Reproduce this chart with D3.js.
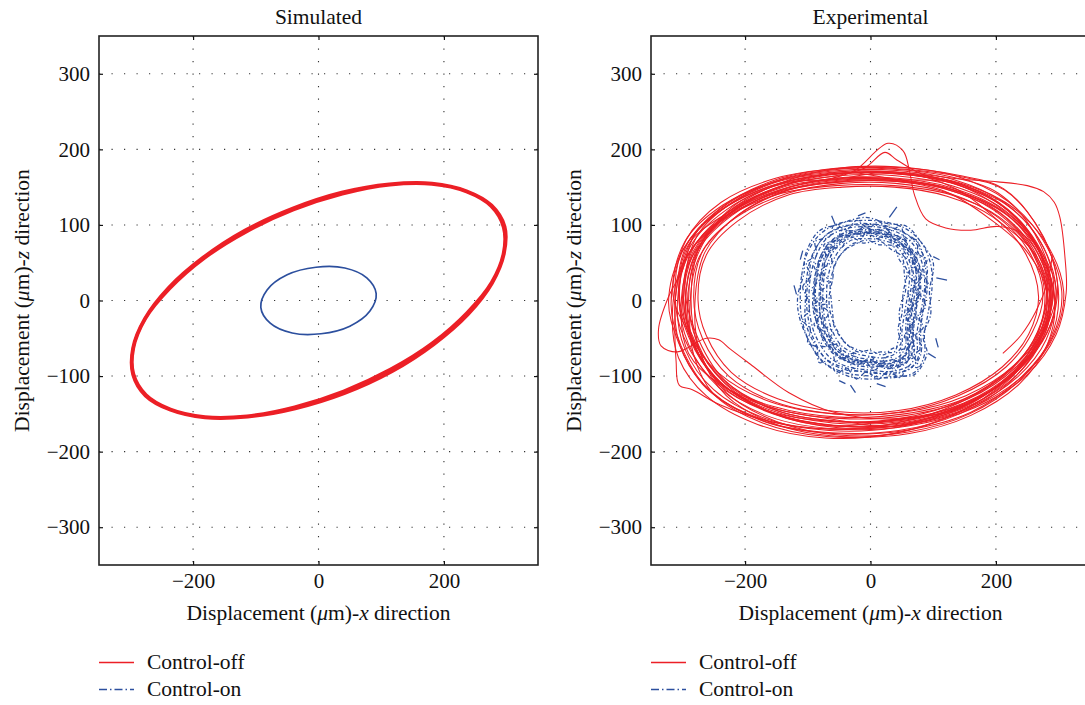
<!DOCTYPE html>
<html>
<head>
<meta charset="utf-8">
<script src="https://cdn.jsdelivr.net/npm/d3@7"></script>
<style>
  html, body { margin: 0; padding: 0; background: #fff; }
  svg { display: block; }
  text { font-family: "Liberation Serif", "Times New Roman", serif; fill: #111; }
</style>
</head>
<body>
<svg id="chart" width="1085" height="705"></svg>
<script>
// ---- axis settings ----
const axisDomain = [-350, 350];
const xTicks = [-200, 0, 200];
const yTicks = [-300, -200, -100, 0, 100, 200, 300];
const panelTitles = ["Simulated", "Experimental"];
const seriesNames = ["Control-off", "Control-on"];

// ---- simulated orbit (x, z in µm) ----
const simOff = [
  [[295,97],[275,125],[236,144],[181,154],[114,153],[38,141],[-40,120],[-115,91],[-182,56],[-237,16],[-276,-24],[-295,-63],[-295,-97],[-275,-125],[-236,-144],[-181,-154],[-114,-153],[-38,-141],[40,-120],[115,-91],[182,-56],[237,-16],[276,24],[295,63]],
  [[297,98],[276,126],[236,145],[181,155],[113,154],[37,143],[-41,122],[-117,93],[-184,57],[-239,17],[-277,-24],[-296,-63],[-296,-98],[-276,-126],[-236,-145],[-181,-155],[-113,-154],[-37,-143],[41,-123],[117,-94],[184,-58],[239,-18],[277,23],[296,62]]
];
const simOn = [
  [[92,9],[77,30],[42,43],[-4,44],[-50,34],[-82,14],[-92,-9],[-77,-30],[-42,-43],[4,-44],[50,-34],[82,-14]]
];

// ---- experimental orbit, control off (x, z in µm) ----
const expOff = [
  [[-300,0],[-282,70],[-226,118],[-140,152],[-50,165],[40,165],[130,152],[210,122],[265,72],[290,10],[275,-45],[230,-95],[150,-138],[50,-160],[-60,-162],[-160,-145],[-240,-108],[-285,-55]],
  [[-318,-5],[-298,68],[-240,122],[-150,160],[-55,175],[40,177],[135,165],[218,132],[275,80],[305,12],[290,-48],[242,-100],[160,-148],[55,-172],[-60,-176],[-170,-160],[-258,-118],[-302,-60]],
  [[-282,5],[-266,68],[-214,110],[-132,142],[-45,155],[40,155],[125,142],[200,112],[252,66],[275,8],[258,-42],[216,-88],[140,-126],[45,-148],[-55,-150],[-150,-135],[-226,-100],[-268,-50]],
  [[-305,15],[-284,82],[-228,128],[-142,160],[-50,172],[42,172],[132,160],[212,130],[268,82],[292,22],[278,-35],[232,-84],[152,-126],[52,-148],[-58,-150],[-160,-134],[-242,-96],[-290,-42]],
  [[-312,-15],[-295,55],[-238,105],[-150,140],[-55,152],[38,152],[128,140],[206,110],[260,62],[284,-2],[268,-58],[222,-108],[142,-150],[45,-172],[-62,-175],[-168,-160],[-252,-122],[-298,-72]],
  [[-295,-8],[-278,62],[-222,112],[-136,148],[-45,162],[45,160],[135,146],[214,116],[268,66],[294,2],[280,-52],[236,-100],[156,-142],[56,-164],[-55,-168],[-156,-150],[-236,-114],[-280,-62]],
  [[-290,2],[-272,72],[-218,120],[-134,154],[-42,168],[48,168],[140,156],[222,126],[280,76],[308,12],[294,-44],[248,-96],[166,-140],[62,-164],[-52,-166],[-152,-150],[-232,-110],[-276,-56]],
  [[-300,40],[-280,88],[-226,126],[-140,156],[-48,168],[42,168],[132,155],[212,124],[266,75],[290,12],[274,-44],[228,-94],[148,-136],[48,-156],[-58,-148],[-130,-122],[-192,-84],[-224,-64],[-242,-52],[-262,-50],[-308,-68],[-334,-60],[-338,-38],[-322,5]],
  [[-310,10],[-292,75],[-234,122],[-146,155],[-52,168],[40,168],[130,155],[210,125],[264,75],[288,10],[272,-48],[226,-98],[146,-140],[46,-165],[-62,-170],[-160,-160],[-240,-138],[-284,-118],[-305,-112],[-310,-80],[-312,-30]],
  [[-295,0],[-276,68],[-222,116],[-140,150],[-60,162],[-25,172],[28,208],[52,198],[62,172],[70,140],[88,108],[120,96],[160,93],[203,98],[241,89],[268,60],[286,8],[272,-46],[228,-96],[148,-140],[50,-162],[-58,-165],[-158,-148],[-238,-110],[-282,-56]],
  [[-298,-2],[-280,66],[-224,116],[-138,152],[-50,166],[-10,175],[23,196],[42,186],[80,168],[140,155],[218,126],[272,76],[296,14],[282,-42],[236,-92],[156,-136],[56,-158],[-54,-160],[-156,-144],[-236,-106],[-280,-54]],
  [[-305,5],[-287,72],[-230,120],[-144,154],[-52,168],[40,170],[150,160],[203,157],[250,152],[276,144],[293,130],[302,110],[310,58],[312,10],[296,-45],[250,-98],[166,-142],[60,-166],[-55,-170],[-160,-154],[-242,-115],[-290,-58]],
  [[-275,0],[-262,60],[-212,105],[-130,140],[-45,150],[38,150],[122,138],[196,110],[246,64],[268,5],[252,-45],[210,-88],[136,-125],[42,-146],[-55,-147],[-148,-130],[-222,-95],[-262,-46]],
  [[-315,8],[-296,78],[-236,126],[-148,158],[-56,170],[38,170],[128,158],[206,128],[260,78],[286,16],[274,-40],[232,-88],[156,-130],[58,-152],[-50,-156],[-155,-142],[-236,-104],[-284,-50]],
  [[-288,-12],[-274,56],[-222,106],[-138,144],[-48,158],[44,158],[134,144],[212,112],[262,60],[282,-4],[262,-60],[214,-110],[134,-150],[36,-176],[-70,-180],[-172,-162],[-250,-124],[-282,-72]],
  [[-308,-4],[-288,64],[-232,112],[-146,146],[-54,160],[36,160],[126,148],[204,118],[258,70],[282,6],[266,-50],[220,-100],[140,-144],[40,-168],[-66,-172],[-168,-156],[-250,-118],[-296,-64]],
  [[-306,6],[-290,74],[-232,114],[-146,150],[-48,170],[44,160],[128,156],[214,118],[262,78],[296,14],[272,-50],[236,-90],[146,-142],[56,-156],[-66,-166],[-154,-150],[-246,-104],[-290,-48]],
  [[-292,-10],[-276,60],[-220,124],[-132,156],[-56,160],[36,170],[136,148],[206,104],[262,62],[286,4],[280,-40],[226,-100],[156,-134],[44,-166],[-54,-158],[-166,-140],[-236,-112],[-278,-64]],
  [[-322,-2],[-300,66],[-244,116],[-152,156],[-60,168],[30,168],[124,158],[204,130],[258,84],[282,18],[268,-40],[222,-92],[140,-136],[42,-162],[-70,-170],[-176,-156],[-262,-116],[-306,-56]],
  [[-286,10],[-270,76],[-216,124],[-128,160],[-40,176],[50,174],[142,164],[214,146],[276,84],[300,6],[286,-52],[240,-104],[158,-150],[60,-174],[-50,-178],[-150,-160],[-230,-122],[-274,-64]],
  [[-302,-20],[-288,52],[-234,106],[-148,144],[-58,156],[32,158],[120,144],[200,102],[250,64],[280,14],[266,-42],[226,-90],[150,-130],[54,-150],[-56,-154],[-156,-140],[-242,-110],[-290,-70]],
  [[-296,20],[-276,86],[-220,130],[-136,162],[-46,174],[44,176],[138,166],[212,148],[270,92],[298,24],[286,-34],[242,-86],[162,-132],[64,-156],[-46,-160],[-148,-146],[-232,-106],[-280,-40]],
  [[-316,-20],[-300,48],[-246,102],[-158,140],[-64,156],[28,158],[118,148],[196,120],[252,72],[278,8],[262,-54],[216,-106],[136,-150],[38,-176],[-72,-182],[-180,-164],[-262,-126],[-306,-76]],
  [[-280,-4],[-264,64],[-210,114],[-126,148],[-36,160],[52,158],[140,144],[216,114],[270,64],[294,-2],[282,-58],[238,-110],[160,-152],[62,-176],[-48,-180],[-150,-164],[-230,-126],[-272,-68]],
  [[-312,12],[-294,80],[-238,130],[-150,162],[-58,174],[34,174],[126,164],[204,142],[262,88],[288,20],[272,-38],[226,-88],[146,-132],[48,-156],[-62,-160],[-164,-146],[-248,-108],[-298,-48]],
  [[-298,4],[-282,66],[-230,112],[-146,146],[-54,162],[38,162],[126,150],[208,120],[262,70],[288,8],[276,-48],[234,-98],[156,-140],[58,-162],[-52,-166],[-152,-150],[-234,-112],[-282,-58]]
];
// loose start of the recorded trace
const expOffTail = [[211,-70],[240,-46],[264,-14],[282,24],[290,60]];

// ---- experimental orbit, control on (x, z in µm) ----
const expOn = [
  [[-66,4],[-60,30],[-58,46],[-42,66],[-30,72],[-6,80],[12,74],[36,72],[46,54],[58,40],[52,10],[50,-18],[44,-38],[48,-58],[34,-64],[20,-72],[-2,-66],[-20,-68],[-42,-54],[-54,-38],[-64,-16]],
  [[-62,-4],[-64,24],[-54,52],[-46,62],[-26,76],[-10,76],[16,78],[32,68],[50,58],[54,34],[56,14],[46,-14],[48,-42],[44,-54],[38,-68],[16,-68],[2,-70],[-24,-64],[-38,-58],[-58,-34],[-60,-20]],
  [[-70,2],[-68,30],[-60,52],[-48,68],[-30,80],[-8,82],[16,80],[38,74],[52,60],[62,40],[60,12],[54,-18],[50,-42],[50,-60],[40,-70],[20,-76],[0,-74],[-24,-70],[-46,-60],[-62,-38],[-68,-18]],
  [[-76,-2],[-74,30],[-66,54],[-54,70],[-34,82],[-8,86],[16,84],[40,76],[56,62],[66,40],[64,12],[58,-16],[56,-40],[56,-60],[46,-74],[24,-80],[0,-78],[-26,-74],[-50,-62],[-68,-40],[-74,-18]],
  [[-80,6],[-76,32],[-70,56],[-52,74],[-36,84],[-6,90],[14,86],[42,80],[58,64],[72,42],[68,14],[62,-18],[58,-44],[60,-62],[48,-78],[26,-80],[-2,-82],[-28,-76],[-54,-66],[-70,-38],[-80,-20]],
  [[-78,-6],[-80,26],[-72,52],[-58,72],[-34,86],[-12,88],[18,88],[38,78],[62,66],[68,38],[70,16],[60,-14],[60,-40],[58,-64],[50,-76],[22,-84],[2,-80],[-30,-78],[-52,-64],[-72,-42],[-76,-22]],
  [[-82,0],[-80,28],[-74,54],[-56,76],[-38,86],[-10,90],[18,88],[42,80],[60,66],[72,42],[72,14],[64,-16],[62,-42],[62,-62],[50,-78],[26,-84],[0,-82],[-28,-78],[-54,-66],[-74,-40],[-80,-20]],
  [[-88,0],[-86,30],[-78,56],[-62,76],[-38,88],[-10,92],[18,90],[44,82],[64,66],[76,42],[76,14],[70,-16],[66,-42],[66,-64],[54,-80],[28,-86],[0,-84],[-30,-80],[-58,-68],[-78,-42],[-86,-20]],
  [[-92,4],[-84,34],[-82,54],[-60,80],[-42,86],[-6,96],[20,88],[48,84],[62,70],[80,40],[74,10],[72,-20],[64,-40],[70,-66],[52,-84],[32,-86],[-4,-88],[-28,-84],[-62,-66],[-76,-46],[-90,-18]],
  [[-86,-6],[-90,26],[-76,60],[-64,72],[-36,92],[-12,88],[16,94],[42,78],[66,64],[72,46],[80,16],[66,-12],[68,-46],[62,-62],[58,-82],[24,-90],[2,-80],[-34,-82],[-54,-70],[-82,-38],[-84,-24]],
  [[-90,2],[-88,32],[-80,58],[-64,78],[-40,90],[-10,94],[20,92],[46,84],[66,68],[78,44],[78,14],[72,-16],[68,-44],[68,-66],[56,-82],[30,-88],[0,-86],[-32,-82],[-60,-70],[-80,-44],[-88,-22]],
  [[-98,-2],[-96,30],[-86,60],[-70,82],[-44,94],[-10,98],[20,96],[48,88],[70,72],[84,44],[86,14],[80,-16],[74,-44],[74,-68],[62,-86],[32,-94],[0,-92],[-34,-88],[-64,-76],[-88,-46],[-96,-22]],
  [[-102,4],[-98,34],[-92,60],[-72,86],[-48,96],[-12,102],[22,98],[50,92],[74,74],[90,46],[88,16],[84,-14],[78,-46],[78,-70],[64,-90],[36,-96],[2,-96],[-36,-90],[-70,-78],[-92,-48],[-100,-20]],
  [[-104,-4],[-102,28],[-94,58],[-74,84],[-46,98],[-14,100],[18,100],[52,90],[76,76],[88,42],[90,12],[82,-18],[80,-42],[80,-72],[66,-88],[34,-98],[-2,-94],[-38,-92],[-68,-80],[-94,-50],[-104,-26]],
  [[-112,0],[-110,32],[-100,64],[-80,88],[-50,102],[-12,106],[22,104],[54,96],[80,78],[96,48],[98,16],[92,-16],[86,-44],[86,-72],[72,-94],[38,-102],[0,-100],[-38,-96],[-74,-82],[-100,-50],[-110,-22]],
  [[-116,6],[-106,36],[-104,60],[-82,92],[-54,100],[-8,110],[26,102],[58,98],[78,80],[100,50],[94,12],[96,-18],[84,-48],[90,-70],[70,-98],[42,-100],[-4,-104],[-36,-100],[-78,-80],[-98,-54],[-114,-20]],
  [[-84,0],[-94,14],[-80,30],[-90,46],[-72,58],[-74,74],[-54,80],[-44,94],[-24,88],[-10,98],[8,88],[24,96],[40,80],[54,84],[60,66],[74,62],[70,44],[82,32],[70,18],[80,4],[66,-10],[74,-24],[62,-36],[72,-50],[60,-62],[68,-76],[50,-78],[40,-92],[22,-82],[6,-92],[-10,-80],[-26,-90],[-40,-74],[-56,-80],[-62,-62],[-78,-60],[-74,-42],[-90,-32],[-80,-18],[-92,-8]],
  [[-70,-4],[-80,10],[-66,24],[-78,40],[-62,52],[-66,70],[-46,70],[-36,86],[-18,80],[-4,92],[10,82],[28,88],[36,72],[52,74],[54,58],[68,50],[60,34],[72,22],[60,8],[68,-8],[56,-20],[64,-34],[54,-48],[62,-62],[48,-66],[46,-82],[28,-74],[14,-84],[0,-74],[-16,-84],[-28,-70],[-44,-76],[-50,-58],[-64,-58],[-62,-40],[-76,-30],[-66,-16],[-80,-6]],
  [[-100,2],[-108,18],[-96,32],[-102,50],[-86,60],[-88,78],[-66,84],[-58,100],[-38,94],[-22,106],[-4,96],[14,104],[30,92],[48,98],[56,80],[74,80],[76,62],[90,54],[82,38],[92,22],[80,8],[88,-8],[76,-20],[84,-36],[72,-46],[82,-62],[70,-72],[76,-88],[58,-88],[48,-102],[28,-94],[12,-104],[-6,-94],[-22,-104],[-38,-90],[-54,-96],[-66,-80],[-82,-82],[-86,-62],[-100,-56],[-96,-38],[-108,-26],[-98,-12]]
];
// isolated fragments scattered around the ring
const expOnStrays = [
  [[30,110],[42,124]], [[105,30],[122,27]], [[92,-70],[104,-76]],
  [[-32,-112],[-24,-122]], [[-62,112],[-56,100]], [[-122,20],[-118,8]],
  [[10,-110],[24,-114]], [[100,58],[110,54]], [[-108,66],[-112,54]],
  [[-50,-106],[-40,-110]], [[104,-50],[108,-62]], [[-20,112],[-8,116]]
];

// ---- styling ----
const RED = "#ec1f26";
const BLUE = "#2c4f9e";
const TICK_PX = 21;
const LABEL_PX = 21.5;

const svg = d3.select("#chart");

const panels = [
  { left: 99, title: panelTitles[0], off: simOff, on: simOn, tail: null, strays: [], offWidth: 3.3, onWidth: 1.7, onDash: null },
  { left: 651, title: panelTitles[1], off: expOff, on: expOn, tail: expOffTail, strays: expOnStrays, offWidth: 1.05, onWidth: 1.25, onDash: "4,2.2,1.3,2.2" }
];

const plotW = 439, plotTop = 36, plotBottom = 565;

panels.forEach((p, i) => {
  const x = d3.scaleLinear().domain(axisDomain).range([p.left, p.left + plotW]);
  const y = d3.scaleLinear().domain(axisDomain).range([plotBottom, plotTop]);
  const g = svg.append("g");

  const clipId = "clip" + i;
  svg.append("clipPath").attr("id", clipId)
    .append("rect").attr("x", p.left).attr("y", plotTop).attr("width", plotW).attr("height", plotBottom - plotTop);

  // dotted grid
  const grid = g.append("g").attr("stroke", "#333").attr("stroke-width", 1.1).attr("stroke-dasharray", "1.2,11.3");
  grid.selectAll(".gy").data(yTicks).join("line")
    .attr("x1", p.left).attr("x2", p.left + plotW)
    .attr("y1", d => y(d)).attr("y2", d => y(d));
  grid.selectAll(".gx").data(xTicks).join("line")
    .attr("y1", plotTop).attr("y2", plotBottom)
    .attr("x1", d => x(d)).attr("x2", d => x(d));

  // data
  const data = g.append("g").attr("clip-path", `url(#${clipId})`);
  const loop = d3.line().x(d => x(d[0])).y(d => y(d[1])).curve(d3.curveCatmullRomClosed.alpha(0.5));
  const open = d3.line().x(d => x(d[0])).y(d => y(d[1])).curve(d3.curveCatmullRom.alpha(0.5));

  data.selectAll(".off").data(p.off).join("path")
    .attr("d", loop).attr("fill", "none").attr("stroke", RED)
    .attr("stroke-width", p.offWidth).attr("stroke-linejoin", "round");
  if (p.tail) {
    data.append("path").attr("d", open(p.tail)).attr("fill", "none")
      .attr("stroke", RED).attr("stroke-width", p.offWidth);
  }
  const onPaths = data.selectAll(".on").data(p.on).join("path")
    .attr("d", loop).attr("fill", "none").attr("stroke", BLUE)
    .attr("stroke-width", p.onWidth);
  if (p.onDash) onPaths.attr("stroke-dasharray", p.onDash).attr("stroke-dashoffset", (d, k) => k * 2.7);
  data.selectAll(".stray").data(p.strays).join("path")
    .attr("d", open).attr("fill", "none").attr("stroke", BLUE).attr("stroke-width", p.onWidth);

  // axes with inward ticks
  const axL = d3.axisLeft(y).tickValues(yTicks).tickSize(-4).tickPadding(9);
  const axB = d3.axisBottom(x).tickValues(xTicks).tickSize(-4).tickPadding(8);
  const axR = d3.axisRight(y).tickValues(yTicks).tickSize(-4).tickFormat("");
  const axT = d3.axisTop(x).tickValues(xTicks).tickSize(-4).tickFormat("");

  const styleAxis = sel => {
    sel.select(".domain").remove();
    sel.selectAll(".tick line").attr("stroke", "#111").attr("stroke-width", 1.2);
    sel.selectAll(".tick text").attr("font-family", "Liberation Serif, serif")
      .attr("font-size", TICK_PX).attr("fill", "#111");
  };
  g.append("g").attr("transform", `translate(${p.left},0)`).call(axL).call(styleAxis);
  g.append("g").attr("transform", `translate(0,${plotBottom})`).call(axB).call(styleAxis);
  g.append("g").attr("transform", `translate(${p.left + plotW},0)`).call(axR).call(styleAxis);
  g.append("g").attr("transform", `translate(0,${plotTop})`).call(axT).call(styleAxis);

  // frame
  g.append("rect").attr("x", p.left).attr("y", plotTop).attr("width", plotW).attr("height", plotBottom - plotTop)
    .attr("fill", "none").attr("stroke", "#222").attr("stroke-width", 1.6);

  // title
  const cx = (p.left + p.left + plotW) / 2;
  g.append("text").attr("x", cx).attr("y", 24).attr("text-anchor", "middle")
    .attr("font-size", LABEL_PX).text(p.title);

  // axis labels
  const xl = g.append("text").attr("x", cx).attr("y", 620).attr("text-anchor", "middle").attr("font-size", LABEL_PX);
  xl.append("tspan").text("Displacement (");
  xl.append("tspan").attr("font-style", "italic").text("μ");
  xl.append("tspan").text("m)-");
  xl.append("tspan").attr("font-style", "italic").text("x");
  xl.append("tspan").text(" direction");

  const ylx = p.left - 70, yly = (plotTop + plotBottom) / 2;
  const yl = g.append("text").attr("transform", `translate(${ylx},${yly}) rotate(-90)`)
    .attr("text-anchor", "middle").attr("font-size", LABEL_PX);
  yl.append("tspan").text("Displacement (");
  yl.append("tspan").attr("font-style", "italic").text("μ");
  yl.append("tspan").text("m)-");
  yl.append("tspan").attr("font-style", "italic").text("z");
  yl.append("tspan").text(" direction");

  // legend
  const lg = g.append("g").attr("transform", `translate(${p.left},0)`);
  const rows = [
    { name: seriesNames[0], color: RED, dash: null, y: 662.5 },
    { name: seriesNames[1], color: BLUE, dash: "8,3,1.5,3", y: 689.5 }
  ];
  rows.forEach(r => {
    lg.append("line").attr("x1", 0).attr("x2", 35).attr("y1", r.y).attr("y2", r.y)
      .attr("stroke", r.color).attr("stroke-width", 1.4)
      .attr("stroke-dasharray", r.dash);
    lg.append("text").attr("x", 48).attr("y", r.y + 6.5).attr("font-size", LABEL_PX).text(r.name);
  });
});
</script>
</body>
</html>
